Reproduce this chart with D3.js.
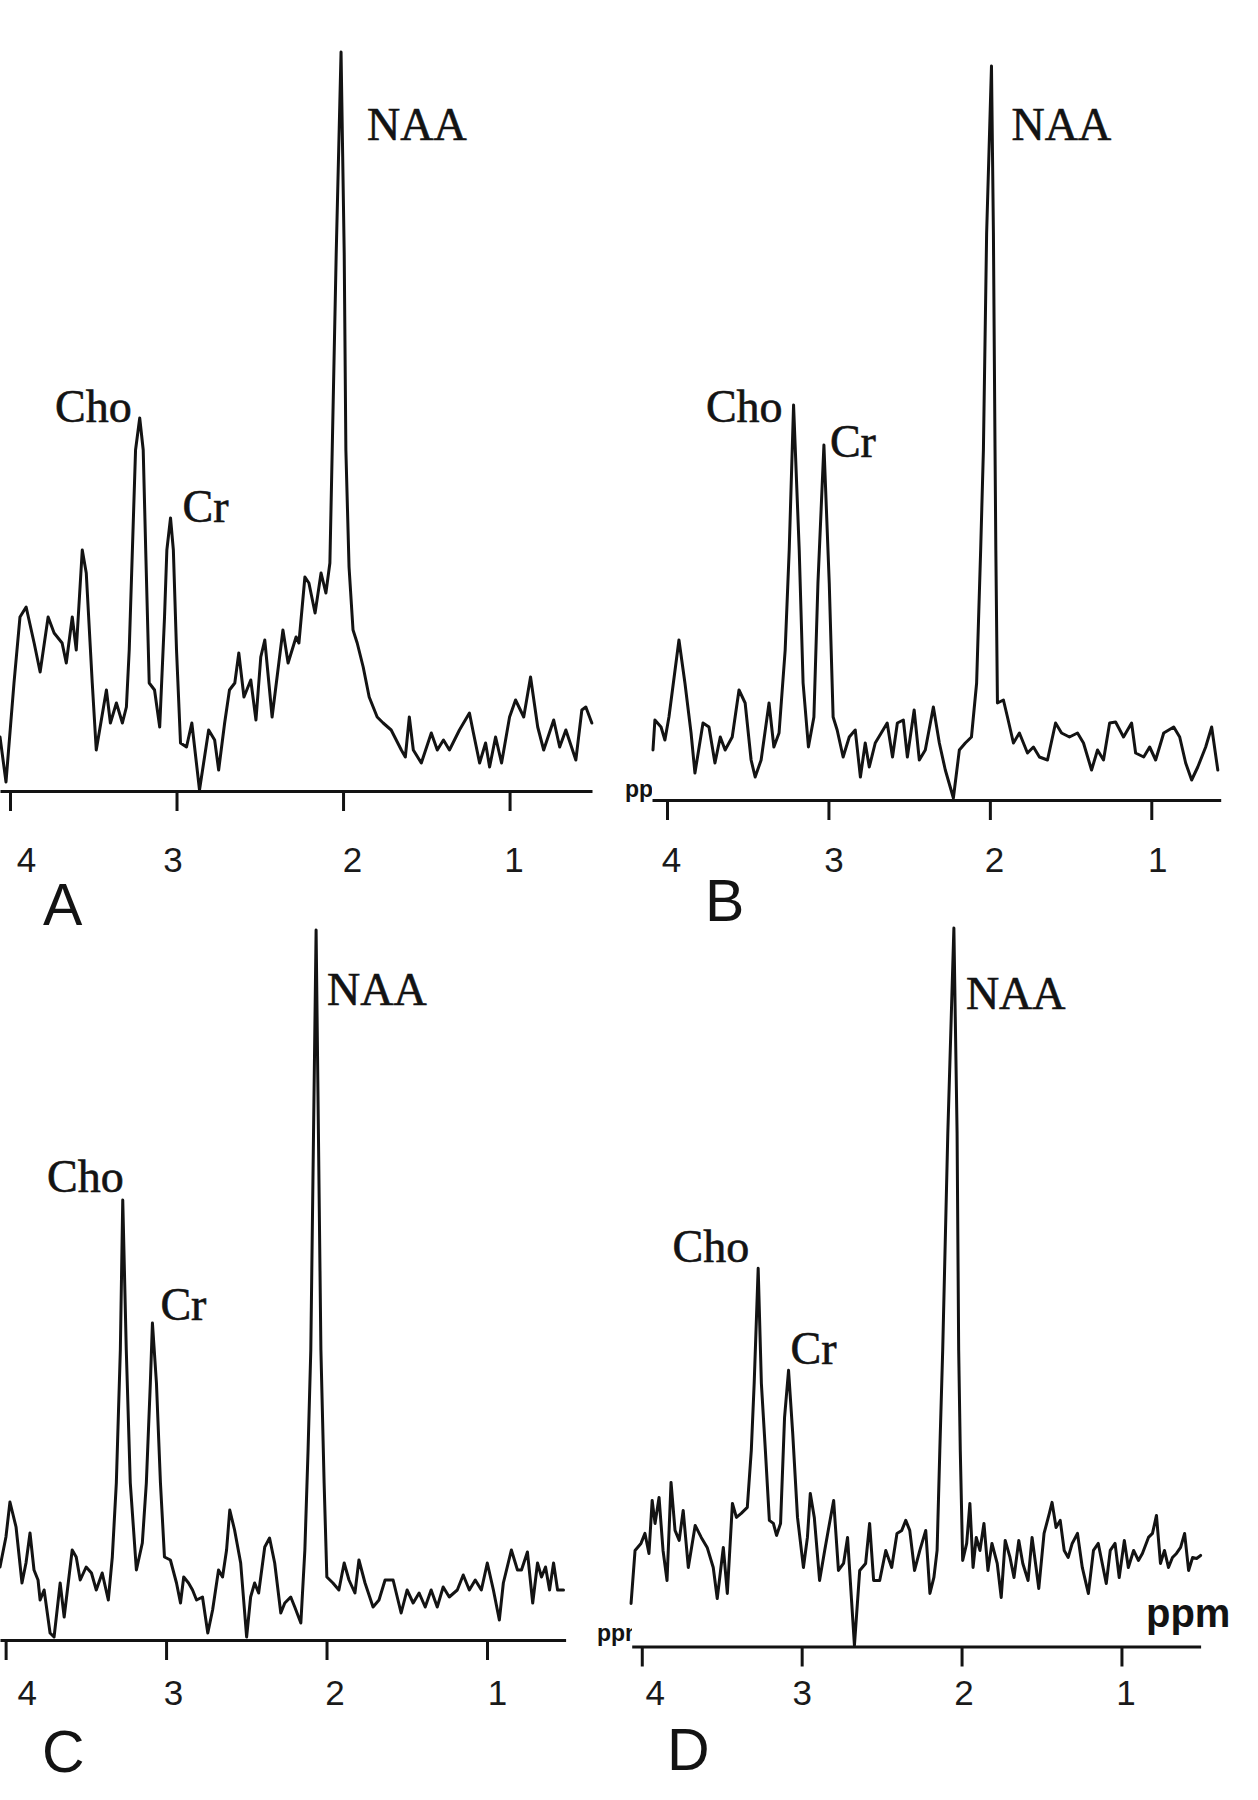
<!DOCTYPE html>
<html>
<head>
<meta charset="utf-8">
<style>
  body { margin: 0; background: #fff; }
</style>
</head>
<body>
<div id="my_dataviz"></div>
<script src="https://d3js.org/d3.v7.min.js"></script>
<script>

// ---- data (chemical shift in ppm, signal in arbitrary units) ----
var ppmA = [4.06,4.024,3.976,3.94,3.903,3.855,3.819,3.771,3.735,3.687,
  3.662,3.626,3.602,3.566,3.542,3.506,3.482,3.421,3.397,3.361,
  3.325,3.301,3.284,3.265,3.246,3.221,3.2,3.185,3.164,3.132,
  3.101,3.072,3.058,3.036,3.019,3.0,2.976,2.94,2.908,2.862,
  2.807,2.771,2.747,2.711,2.682,2.65,2.626,2.595,2.554,2.523,
  2.494,2.47,2.426,2.361,2.33,2.282,2.265,2.229,2.205,2.168,
  2.132,2.103,2.079,2.065,2.041,2.012,1.993,1.983,1.964,1.94,
  1.915,1.879,1.843,1.795,1.759,1.711,1.65,1.626,1.602,1.578,
  1.53,1.47,1.434,1.397,1.361,1.301,1.241,1.217,1.18,1.144,
  1.12,1.084,1.048,1.0,0.964,0.915,0.874,0.831,0.795,0.735,
  0.699,0.662,0.602,0.566,0.542,0.506];
var sigA = [54,9,108,174,184,148,119,174,158,148,
  128,174,141,241,218,108,41,101,68,88,
  68,84,141,241,341,373,341,241,108,101,
  64,174,241,273,241,141,48,44,68,1,
  61,51,21,68,101,108,138,94,111,71,
  134,151,74,161,128,154,148,214,208,178,
  218,198,228,341,538,739,538,341,224,161,
  148,124,94,74,68,61,41,34,74,41,
  28,58,41,51,41,61,78,58,28,48,
  24,54,28,74,91,74,114,64,41,71,
  44,61,31,81,84,68];

var ppmB = [4.087,4.075,4.037,4.013,3.988,3.926,3.889,3.851,3.827,3.777,
  3.74,3.703,3.67,3.64,3.596,3.554,3.516,3.479,3.454,3.417,
  3.368,3.338,3.306,3.268,3.243,3.216,3.181,3.157,3.124,3.09,
  3.065,3.028,2.995,2.971,2.946,2.909,2.871,2.834,2.802,2.772,
  2.747,2.71,2.673,2.636,2.603,2.573,2.536,2.511,2.469,2.437,
  2.4,2.35,2.313,2.276,2.226,2.189,2.152,2.114,2.082,2.057,
  2.04,2.02,1.99,1.978,1.968,1.963,1.953,1.916,1.891,1.854,
  1.817,1.767,1.73,1.693,
  1.643,1.593,1.556,1.507,1.457,1.42,1.37,1.333,1.296,1.258,
  1.221,1.172,1.122,1.097,1.047,1.01,0.973,0.923,0.861,0.824,
  0.787,0.75,0.712,0.663,0.626,0.588];
var sigB = [50,80,73,60,83,160,117,67,27,77,
  73,37,63,50,63,110,97,40,23,40,
  97,53,67,150,250,395,250,117,53,83,
  217,355,217,83,70,43,63,70,23,57,
  33,57,67,77,43,77,80,43,90,40,
  50,93,57,30,2,50,57,63,117,250,
  350,567,734,567,350,250,97,100,83,57,
  67,47,53,43,
  40,77,67,63,67,57,30,50,40,77,
  78,63,77,47,43,53,40,67,73,63,
  37,20,33,53,73,30];

var ppmC = [4.035,3.998,3.973,3.935,3.898,3.873,3.848,3.823,3.798,3.785,
  3.76,3.723,3.698,3.66,3.635,3.585,3.56,3.535,3.498,3.465,
  3.435,3.398,3.36,3.335,3.31,3.285,3.27,3.248,3.223,3.185,
  3.148,3.123,3.098,3.085,3.06,3.035,3.01,2.973,2.935,2.91,
  2.89,2.86,2.835,2.81,2.773,2.74,2.71,2.673,2.648,2.623,
  2.603,2.573,2.535,2.498,2.473,2.448,2.423,2.385,2.355,2.323,
  2.285,2.26,2.223,2.198,2.16,2.135,2.115,2.098,2.065,2.035,
  2.015,1.998,1.96,1.923,1.89,1.86,1.823,1.798,1.76,1.71,
  1.673,1.635,1.585,1.535,1.498,1.46,1.423,1.385,1.348,1.31,
  1.273,1.235,1.185,1.148,1.11,1.073,1.035,0.998,0.96,0.923,
  0.898,0.848,0.81,0.785,0.748,0.715,0.685,0.66,0.635,0.61,
  0.585,0.56,0.523];
var sigC = [73,103,138,113,57,77,107,70,60,40,
  50,7,3,57,23,90,83,60,73,67,
  50,67,40,83,157,290,440,290,157,70,
  97,157,257,317,257,157,83,80,57,37,
  63,57,50,40,43,7,30,70,63,90,
  130,110,77,3,43,57,47,93,102,77,
  27,37,43,33,17,90,190,290,710,290,
  157,63,57,50,77,60,47,80,57,33,
  40,60,60,27,50,37,47,33,50,33,
  53,43,50,65,50,60,50,77,50,20,
  57,90,70,70,88,37,77,63,73,50,
  77,50,50];

var ppmD = [4.067,4.042,4.005,3.98,3.955,3.935,3.917,3.892,3.867,3.842,
  3.817,3.792,3.766,3.741,3.709,3.666,3.628,3.591,3.553,3.528,
  3.49,3.465,3.433,3.408,3.378,3.34,3.315,3.297,3.272,3.252,
  3.227,3.202,3.177,3.157,3.132,3.107,3.082,3.056,3.026,2.989,
  2.964,2.946,2.921,2.888,2.856,2.826,2.8,2.77,2.738,2.713,
  2.688,2.67,2.637,2.6,2.575,2.55,2.512,2.474,2.437,2.404,
  2.374,2.349,2.324,2.294,2.261,2.224,2.198,2.173,2.153,2.136,
  2.118,2.086,2.048,2.028,2.018,2.008,1.993,1.968,1.948,1.928,
  1.908,1.885,1.86,1.835,1.81,1.777,1.752,1.727,1.697,1.672,
  1.642,1.617,1.584,1.559,1.534,1.517,1.484,1.451,1.434,1.409,
  1.383,1.358,1.333,1.308,1.275,1.245,1.207,1.175,1.145,1.12,
  1.095,1.07,1.04,1.014,0.982,0.957,0.924,0.894,0.869,0.831,
  0.806,0.781,0.756,0.731,0.706,0.681,0.656,0.63,0.605,0.58,
  0.555,0.53,0.505];
var sigD = [43,96,103,113,93,146,123,149,96,66,
  164,116,106,136,79,121,109,99,79,48,
  99,53,143,129,133,139,196,263,378,263,
  196,126,123,111,123,229,276,213,129,79,
  109,153,129,66,96,123,146,76,83,109,
  46,1,76,83,123,66,66,96,79,113,
  116,126,116,76,96,116,53,69,96,196,
  296,513,718,513,296,196,86,103,143,79,
  109,96,123,76,103,83,49,106,89,69,
  106,83,66,109,79,58,113,133,144,119,
  126,96,89,103,113,79,53,96,103,83,
  63,96,103,69,106,79,96,86,93,109,
  113,131,83,96,79,89,93,99,113,76,
  89,88,91];

var tickValues = [4, 3, 2, 1];
var tickLabels = ["4", "3", "2", "1"];
var peakNames = ["NAA", "Cho", "Cr"];
var peakPpmA = [2.012, 3.221, 3.036], peakSigA = [739, 373, 273];
var peakPpmB = [1.99, 3.216, 3.028],  peakSigB = [734, 395, 355];
var peakPpmC = [2.065, 3.27, 3.085],  peakSigC = [710, 440, 317];
var peakPpmD = [2.048, 3.272, 3.082], peakSigD = [718, 378, 276];
var panelLetters = ["A", "B", "C", "D"];

// ---- layout (pixels) ----
var panels = [
  { ppm: ppmA, sig: sigA, pk: peakPpmA, ps: peakSigA, dom: [4.06, 0.505], xr: [0, 592],
    base: 791, top: 52, pad: 36, tdx: [16, -4, 9, 4],
    lab: [[26, 88], [-8, 4], [12, 4]], letter: [43, 925] },
  { ppm: ppmB, sig: sigB, pk: peakPpmB, ps: peakSigB, dom: [4.093, 0.57], xr: [652, 1220.7],
    base: 800, top: 66, pad: 27, tdx: [4, 5, 4, 6],
    lab: [[20, 74], [-11, 17], [6, 12]], letter: [705, 921], ppmTag: [625, 797, 652] },
  { ppm: ppmC, sig: sigC, pk: peakPpmC, ps: peakSigC, dom: [4.035, 0.51], xr: [0, 565.6],
    base: 1640, top: 930, pad: 20, tdx: [21, 7, 8, 10],
    lab: [[11, 75], [1, -8], [8, -3]], letter: [42, 1772] },
  { ppm: ppmD, sig: sigD, pk: peakPpmD, ps: peakSigD, dom: [4.063, 0.505], xr: [631.7, 1200.6],
    base: 1646.5, top: 928, pad: 14, tdx: [13, 0, 2, 4],
    lab: [[12, 81], [-9, -6], [2, -6]], letter: [667, 1770], ppmTag: [597, 1641, 632] }
];

var ink = "#131313";

var svg = d3.select("#my_dataviz")
  .append("svg")
    .attr("width", 1258)
    .attr("height", 1800)
    .style("background", "#fff");

var defs = svg.append("defs");

panels.forEach(function(p, i) {
  var x = d3.scaleLinear().domain(p.dom).range(p.xr);
  var y = d3.scaleLinear().domain([0, p.ps[0]]).range([p.base, p.top]);

  var g = svg.append("g");

  // axis
  var ax = g.append("g")
    .attr("transform", "translate(0," + p.base + ")")
    .call(d3.axisBottom(x)
      .tickValues(tickValues)
      .tickSizeInner(20)
      .tickSizeOuter(0)
      .tickPadding(p.pad)
      .tickFormat(function(d, j) { return tickLabels[j]; }));
  ax.select(".domain").attr("stroke", ink).attr("stroke-width", 3.2);
  ax.selectAll(".tick line").attr("stroke", ink).attr("stroke-width", 3);
  ax.selectAll(".tick text")
    .attr("font-family", "'Liberation Sans', Arial, sans-serif")
    .attr("font-size", 35)
    .attr("fill", "#1a1a1a")
    .attr("dx", function(d, j) { return p.tdx[j]; });

  // spectrum
  var pts = p.ppm.map(function(v, j) { return [v, p.sig[j]]; });
  g.append("path")
    .datum(pts)
    .attr("fill", "none")
    .attr("stroke", ink)
    .attr("stroke-width", 3)
    .attr("stroke-linejoin", "round")
    .attr("stroke-linecap", "round")
    .attr("d", d3.line()
      .x(function(d) { return x(d[0]); })
      .y(function(d) { return y(d[1]); }));

  // peak labels
  peakNames.forEach(function(name, k) {
    g.append("text")
      .attr("x", x(p.pk[k]) + p.lab[k][0])
      .attr("y", y(p.ps[k]) + p.lab[k][1])
      .attr("text-anchor", name == "Cho" ? "end" : "start")
      .attr("font-family", "'Liberation Serif', 'Times New Roman', serif")
      .attr("font-size", 46)
      .attr("fill", ink)
      .attr("stroke", ink)
      .attr("stroke-width", 0.6)
      .text(name);
  });

  // panel letter
  g.append("text")
    .attr("x", p.letter[0])
    .attr("y", p.letter[1])
    .attr("font-family", "'Liberation Sans', Arial, sans-serif")
    .attr("font-size", 59)
    .attr("fill", ink)
    .text(panelLetters[i]);

  // the small cut-off "ppm" tag left of the axis
  if (p.ppmTag) {
    var cid = "clip" + i;
    defs.append("clipPath").attr("id", cid)
      .append("rect")
        .attr("x", p.ppmTag[0] - 5).attr("y", p.ppmTag[1] - 30)
        .attr("width", p.ppmTag[2] - p.ppmTag[0] + 5).attr("height", 45);
    g.append("text")
      .attr("clip-path", "url(#" + cid + ")")
      .attr("x", p.ppmTag[0])
      .attr("y", p.ppmTag[1])
      .attr("font-family", "'Liberation Sans', Arial, sans-serif")
      .attr("font-weight", "bold")
      .attr("font-size", 23)
      .attr("fill", ink)
      .text("ppm");
  }
});

// bold axis unit of the last panel
svg.append("text")
  .attr("x", 1146)
  .attr("y", 1627)
  .attr("font-family", "'Liberation Sans', Arial, sans-serif")
  .attr("font-weight", "bold")
  .attr("font-size", 40)
  .attr("fill", ink)
  .text("ppm");

</script>
</body>
</html>
